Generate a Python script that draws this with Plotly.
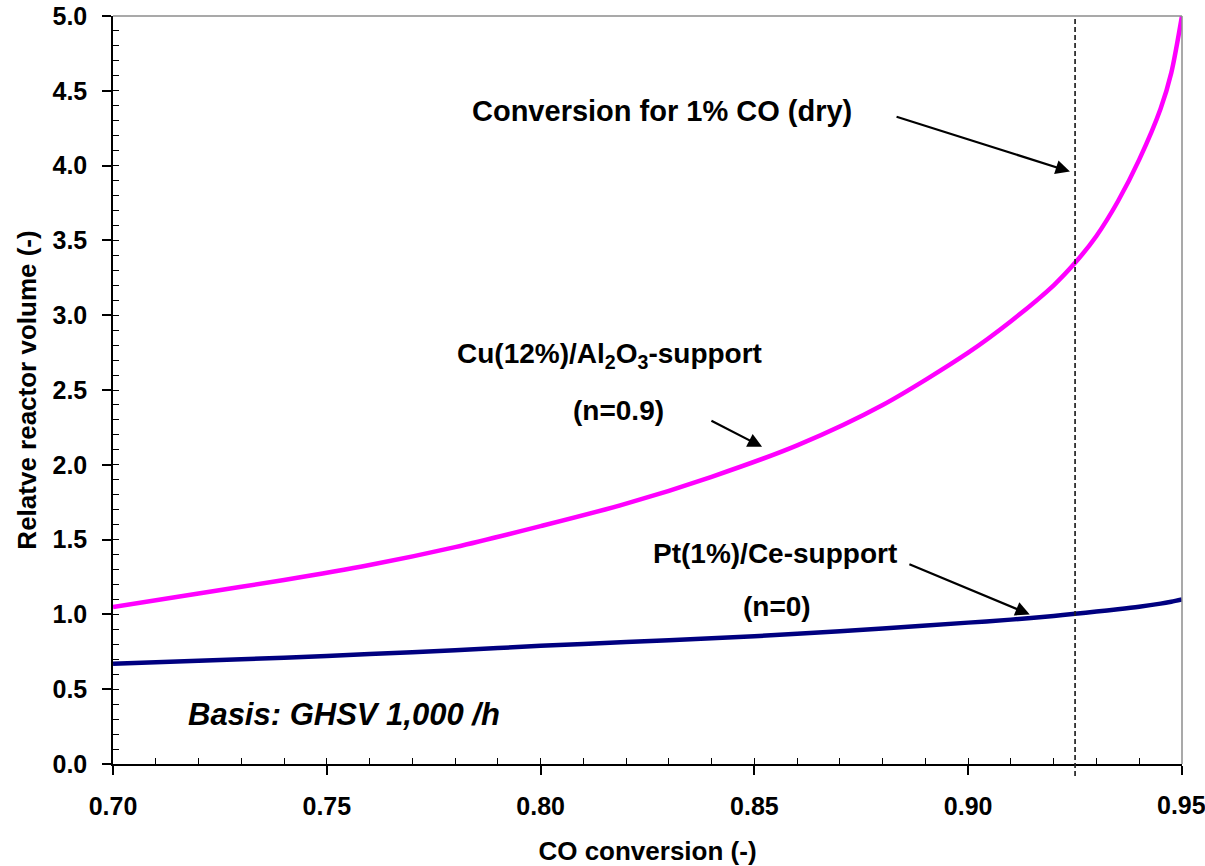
import plotly.graph_objects as go

# CO conversion grid and relative reactor volumes for the two catalysts
conversion = [0.70, 0.72, 0.74, 0.76, 0.78, 0.80, 0.82, 0.84, 0.86, 0.88,
              0.90, 0.91, 0.92, 0.925, 0.93, 0.935, 0.94, 0.945, 0.9475, 0.95]
cu_volume = [1.05, 1.14, 1.23, 1.33, 1.45, 1.59, 1.74, 1.92, 2.13, 2.40,
             2.75, 2.96, 3.20, 3.35, 3.53, 3.76, 4.04, 4.38, 4.62, 5.0]
pt_volume = [0.67, 0.69, 0.71, 0.735, 0.76, 0.79, 0.815, 0.84, 0.87, 0.905,
             0.945, 0.965, 0.99, 1.004, 1.019, 1.034, 1.051, 1.072, 1.085, 1.10]

dry_co_conversion = 0.925  # conversion giving 1% CO (dry)

x_ticks = [0.70, 0.75, 0.80, 0.85, 0.90, 0.95]
x_tick_labels = ["0.70", "0.75", "0.80", "0.85", "0.90", "0.95"]
y_ticks = [0.0, 0.5, 1.0, 1.5, 2.0, 2.5, 3.0, 3.5, 4.0, 4.5, 5.0]
y_tick_labels = ["0.0", "0.5", "1.0", "1.5", "2.0", "2.5", "3.0", "3.5", "4.0", "4.5", "5.0"]

X_RANGE = [0.69999, 0.95001]
Y_RANGE = [-0.0001, 5.0001]

FONT = "Liberation Sans, Arial, sans-serif"

fig = go.Figure()

fig.add_trace(go.Scatter(x=conversion, y=cu_volume, mode="lines",
                         line=dict(color="#FF00FF", width=4.5, shape="spline", smoothing=0.8),
                         name="Cu(12%)/Al2O3", showlegend=False))
fig.add_trace(go.Scatter(x=conversion, y=pt_volume, mode="lines",
                         line=dict(color="#000080", width=4.5, shape="spline", smoothing=0.8),
                         name="Pt(1%)/Ce", showlegend=False))

# invisible trace so the overlay axes (inner minor ticks) are drawn
fig.add_trace(go.Scatter(x=[0.70], y=[0.0], xaxis="x2", yaxis="y2",
                         mode="markers", marker=dict(opacity=0), hoverinfo="skip",
                         showlegend=False))

tick_font = dict(family=FONT, size=25, color="black", weight="bold")
title_font = dict(family=FONT, size=26, color="black", weight="bold")

fig.update_layout(
    width=1205, height=866,
    margin=dict(l=113, r=23, t=16, b=102, autoexpand=False),
    plot_bgcolor="white", paper_bgcolor="white",
    xaxis=dict(range=X_RANGE, tickvals=x_ticks, ticktext=x_tick_labels,
               ticks="outside", ticklen=9, tickwidth=1.5, tickcolor="black",
               showline=True, linecolor="black", linewidth=1.5,
               showgrid=False, zeroline=False, tickfont=tick_font,
               ticklabelstandoff=10, automargin=False,
               title=dict(text="CO conversion (-)", font=title_font, standoff=23)),
    yaxis=dict(range=Y_RANGE, tickvals=y_ticks, ticktext=y_tick_labels,
               ticks="outside", ticklen=9, tickwidth=1.5, tickcolor="black",
               showline=True, linecolor="black", linewidth=1.5,
               showgrid=False, zeroline=False, tickfont=tick_font,
               ticklabelstandoff=10, automargin=False,
               title=dict(text="Relatve reactor volume (-)", font=title_font, standoff=8)),
    xaxis2=dict(range=X_RANGE, overlaying="x", dtick=0.01, tick0=0.70,
                ticks="inside", ticklen=6, tickwidth=1.2, tickcolor="black",
                showticklabels=False, showline=False, showgrid=False, zeroline=False),
    yaxis2=dict(range=Y_RANGE, overlaying="y", dtick=0.1, tick0=0.0,
                ticks="inside", ticklen=6, tickwidth=1.2, tickcolor="black",
                showticklabels=False, showline=False, showgrid=False, zeroline=False),
)

# the last x tick label runs past the page edge, so it is placed explicitly
fig.add_annotation(x=x_ticks[-1], y=-0.0548, xref="x", yref="paper",
                   text=x_tick_labels[-1], showarrow=False,
                   xanchor="center", yanchor="middle", font=tick_font)

# grey frame on the top and right sides
fig.add_shape(type="line", xref="paper", yref="paper", x0=0, x1=1, y0=1, y1=1,
              line=dict(color="#8c8c8c", width=1.5))
fig.add_shape(type="line", xref="paper", yref="paper", x0=1, x1=1, y0=0, y1=1,
              line=dict(color="#8c8c8c", width=1.5))

# dashed marker line at the 1% CO conversion
fig.add_shape(type="line", xref="x", yref="paper",
              x0=dry_co_conversion, x1=dry_co_conversion, y0=-0.016, y1=1,
              line=dict(color="#222222", width=1.7, dash="5px,3px"))

ann_font = dict(family=FONT, size=28, color="black", weight="bold")

fig.add_annotation(x=0.8284, y=4.365, text="Conversion for 1% CO (dry)",
                   showarrow=False, xanchor="center", yanchor="middle",
                   font=dict(family=FONT, size=29, color="black", weight="bold"))
fig.add_annotation(x=0.9238, y=3.96, ax=0.8829, ay=4.33, axref="x", ayref="y",
                   text="", showarrow=True, arrowhead=2, arrowsize=1.3,
                   arrowwidth=2.2, arrowcolor="black")

fig.add_annotation(x=0.8162, y=2.734, text="Cu(12%)/Al<sub>2</sub>O<sub>3</sub>-support",
                   showarrow=False, xanchor="center", yanchor="middle", font=ann_font)
fig.add_annotation(x=0.8181, y=2.366, text="(n=0.9)",
                   showarrow=False, xanchor="center", yanchor="middle", font=ann_font)
fig.add_annotation(x=0.8518, y=2.12, ax=0.8396, ay=2.30, axref="x", ayref="y",
                   text="", showarrow=True, arrowhead=2, arrowsize=1.3,
                   arrowwidth=2.2, arrowcolor="black")

fig.add_annotation(x=0.8548, y=1.41, text="Pt(1%)/Ce-support",
                   showarrow=False, xanchor="center", yanchor="middle", font=ann_font)
fig.add_annotation(x=0.8553, y=1.05, text="(n=0)",
                   showarrow=False, xanchor="center", yanchor="middle", font=ann_font)
fig.add_annotation(x=0.9144, y=1.00, ax=0.8859, ay=1.34, axref="x", ayref="y",
                   text="", showarrow=True, arrowhead=2, arrowsize=1.3,
                   arrowwidth=2.2, arrowcolor="black")

fig.add_annotation(x=0.7171, y=0.334, text="<i>Basis: GHSV 1,000 /h</i>",
                   showarrow=False, xanchor="left", yanchor="middle",
                   font=dict(family=FONT, size=31, color="black", weight="bold"))

fig.write_html("out.html")
